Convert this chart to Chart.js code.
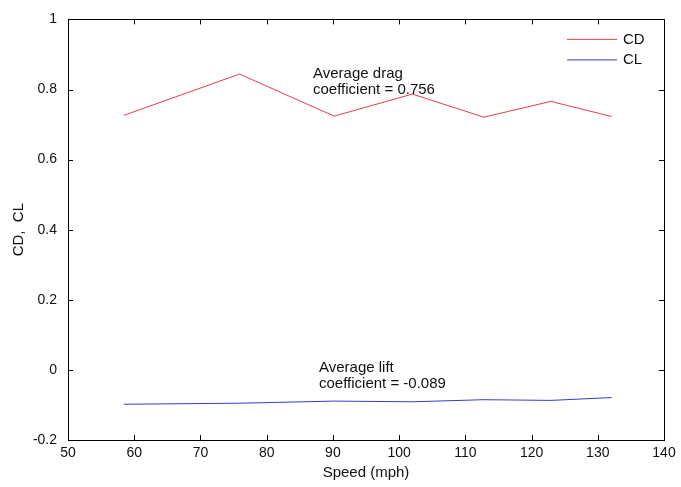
<!DOCTYPE html>
<html>
<head>
<meta charset="utf-8">
<script src="https://cdn.jsdelivr.net/npm/chart.js@4.4.1/dist/chart.umd.min.js"></script>
<style>
  html, body { margin: 0; padding: 0; background: #fff; }
  #wrap { width: 681px; height: 487px; }
</style>
</head>
<body>
<div id="wrap"><canvas id="coefChart" width="681" height="487"></canvas></div>
<script>
// valeurs
const speed = [58.4, 75.9, 90.2, 102.0, 112.8, 122.9, 132.1];
const cdValues = [0.726, 0.844, 0.724, 0.787, 0.721, 0.766, 0.723];
const clValues = [-0.098, -0.095, -0.089, -0.091, -0.085, -0.087, -0.079];
const xTicks = [50, 60, 70, 80, 90, 100, 110, 120, 130, 140];
const yTicks = ['-0.2', '0', '0.2', '0.4', '0.6', '0.8', '1'];
const seriesNames = ['CD', 'CL'];

const FONT = "'Liberation Sans', Arial, sans-serif";
Chart.defaults.font.family = FONT;
Chart.defaults.color = '#111';

const toPoints = (xs, ys) => xs.map((x, i) => ({ x: x, y: ys[i] }));

// boite + graduations vers l'interieur (style matlab)
const boxPlugin = {
    id: 'box',
    afterDraw(chart) {
        const { ctx, chartArea: a, scales } = chart;
        const tl = 5;
        ctx.save();
        ctx.strokeStyle = '#000';
        ctx.lineWidth = 1;
        ctx.strokeRect(Math.round(a.left) + 0.5, Math.round(a.top) + 0.5,
            Math.round(a.right - a.left), Math.round(a.bottom - a.top));
        ctx.beginPath();
        scales.x.ticks.forEach(t => {
            const px = Math.round(scales.x.getPixelForValue(t.value)) + 0.5;
            ctx.moveTo(px, a.bottom); ctx.lineTo(px, a.bottom - tl);
            ctx.moveTo(px, a.top); ctx.lineTo(px, a.top + tl);
        });
        scales.y.ticks.forEach(t => {
            const py = Math.round(scales.y.getPixelForValue(t.value)) + 0.5;
            ctx.moveTo(a.left, py); ctx.lineTo(a.left + tl, py);
            ctx.moveTo(a.right, py); ctx.lineTo(a.right - tl, py);
        });
        ctx.stroke();
        ctx.restore();
    }
};

// textes d'annotation + legende
const notesPlugin = {
    id: 'notes',
    afterDatasetsDraw(chart) {
        const { ctx, chartArea: a, scales } = chart;
        ctx.save();
        ctx.font = '15px ' + FONT;
        ctx.fillStyle = '#111';
        ctx.textAlign = 'left';
        ctx.textBaseline = 'middle';
        const notes = [
            { x: 87.0, y: 0.846, text: 'Average drag' },
            { x: 87.0, y: 0.799, text: 'coefficient = 0.756' },
            { x: 87.9, y: 0.0065, text: 'Average lift' },
            { x: 87.9, y: -0.039, text: 'coefficient = -0.089' }
        ];
        notes.forEach(n => {
            ctx.fillText(n.text, scales.x.getPixelForValue(n.x), scales.y.getPixelForValue(n.y));
        });

        chart.data.datasets.forEach((ds, i) => {
            const y = a.top + 20 + i * 20.5;
            ctx.strokeStyle = ds.borderColor;
            ctx.lineWidth = 1;
            ctx.beginPath();
            ctx.moveTo(a.right - 97, y);
            ctx.lineTo(a.right - 47, y);
            ctx.stroke();
            ctx.fillText(ds.label, a.right - 41, y);
        });
        ctx.restore();
    }
};

const chart = new Chart(document.getElementById('coefChart').getContext('2d'), {
    type: 'line',
    data: {
        datasets: [
            {
                label: seriesNames[0],
                data: toPoints(speed, cdValues),
                borderColor: 'rgb(228, 62, 74)',
                borderWidth: 1,
                pointRadius: 0,
                tension: 0
            },
            {
                label: seriesNames[1],
                data: toPoints(speed, clValues),
                borderColor: 'rgb(58, 58, 205)',
                borderWidth: 1,
                pointRadius: 0,
                tension: 0
            }
        ]
    },
    options: {
        responsive: false,
        animation: false,
        layout: { padding: { left: 0, top: 14, right: 17, bottom: 0 } },
        plugins: {
            legend: { display: false },
            tooltip: { enabled: false }
        },
        scales: {
            x: {
                type: 'linear',
                min: xTicks[0],
                max: xTicks[xTicks.length - 1],
                afterBuildTicks: s => { s.ticks = xTicks.map(v => ({ value: v })); },
                afterFit: s => { s.height = 47; },
                grid: { display: false, drawTicks: false },
                border: { display: false },
                ticks: { font: { size: 14 }, padding: 5, maxRotation: 0 },
                title: {
                    display: true,
                    text: 'Speed (mph)',
                    font: { size: 15 },
                    padding: { top: 5, bottom: 5 }
                }
            },
            y: {
                type: 'linear',
                min: -0.2,
                max: 1,
                afterBuildTicks: s => { s.ticks = yTicks.map(v => ({ value: parseFloat(v) })); },
                afterFit: s => { s.width = 68; },
                grid: { display: false, drawTicks: false },
                border: { display: false },
                ticks: {
                    font: { size: 14 },
                    padding: 11,
                    callback: (v, i) => yTicks[i]
                },
                title: {
                    display: true,
                    text: 'CD,  CL',
                    font: { size: 15 },
                    padding: { top: 10, bottom: 10 }
                }
            }
        }
    },
    plugins: [boxPlugin, notesPlugin]
});
</script>
</body>
</html>
